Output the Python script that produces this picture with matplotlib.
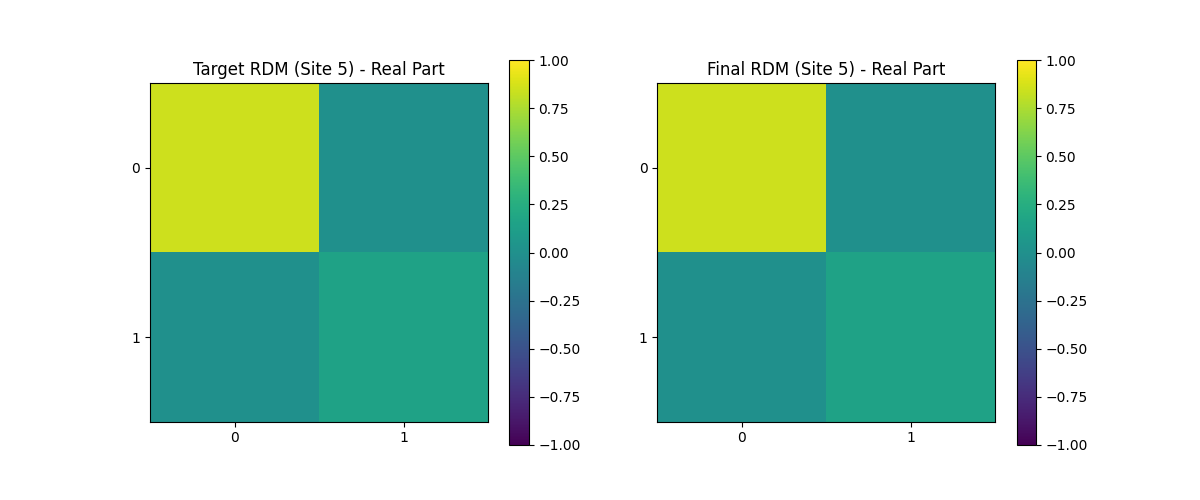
import numpy as np
import matplotlib
matplotlib.use("Agg")
import matplotlib.pyplot as plt

target_rdm = np.array([[0.85, 0.0],
                       [0.0, 0.15]])
final_rdm = np.array([[0.85, 0.0],
                      [0.0, 0.15]])
titles = ["Target RDM (Site 5) - Real Part", "Final RDM (Site 5) - Real Part"]

fig, axes = plt.subplots(1, 2, figsize=(12, 5))
for ax, mat, title in zip(axes, [target_rdm, final_rdm], titles):
    im = ax.imshow(mat, cmap="viridis", vmin=-1, vmax=1)
    ax.set_title(title)
    ax.set_xticks([0, 1])
    ax.set_yticks([0, 1])
    fig.colorbar(im, ax=ax)

plt.savefig("out.png", dpi=100)
